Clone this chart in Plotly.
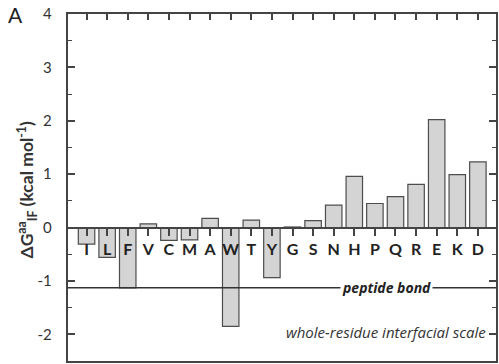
import plotly.graph_objects as go

residues = ["I", "L", "F", "V", "C", "M", "A", "W", "T", "Y",
            "G", "S", "N", "H", "P", "Q", "R", "E", "K", "D"]
dG_IF = [-0.31, -0.56, -1.13, 0.07, -0.24, -0.23, 0.17, -1.85, 0.14, -0.94,
         0.01, 0.13, 0.42, 0.96, 0.45, 0.58, 0.81, 2.02, 0.99, 1.23]
peptide_bond = -1.13
y_ticks = [-2, -1, 0, 1, 2, 3, 4]
y_ticktext = ["-2", "-1", "0", "1", "2", "3", "4"]
y_minor = [v - 0.5 for v in y_ticks]

YMIN, YMAX = -2.5, 4
XR = [-0.9, 19.88]
FONT = "Lato"
AX = "#444444"
PAD = "\u2002\u2005"

fig = go.Figure()
fig.add_trace(go.Bar(
    x=residues, y=dG_IF, width=0.8,
    marker=dict(color="#d4d4d4", line=dict(color="#4d4d4d", width=1.2)),
    xaxis="x", yaxis="y", showlegend=False,
))
# invisible trace to carry the category axis sitting at y = 0
fig.add_trace(go.Scatter(x=residues, y=[0] * len(residues), mode="markers",
                         marker=dict(opacity=0), xaxis="x2", yaxis="y",
                         showlegend=False, hoverinfo="skip"))

fig.add_shape(type="line", xref="paper", yref="y", x0=0, x1=1,
              y0=peptide_bond, y1=peptide_bond,
              line=dict(color="#333333", width=1.5))
fig.add_annotation(xref="paper", yref="y", x=0.745, y=peptide_bond,
                   xanchor="center", yanchor="middle",
                   text="<b><i>peptide bond</i></b>", showarrow=False,
                   bgcolor="white", borderpad=1,
                   font=dict(family="Open Sans", size=14, color="#222222"))
fig.add_annotation(xref="paper", yref="y", x=0.982, y=-1.96,
                   xanchor="right", yanchor="middle",
                   text="<i>whole-residue interfacial scale</i>",
                   showarrow=False,
                   font=dict(family="Open Sans", size=15, color="#333333"))
fig.add_annotation(xref="paper", yref="paper", x=-0.095, y=0.495,
                   xanchor="center", yanchor="middle",
                   textangle=-90, showarrow=False,
                   text="<b>ΔG<sup>aa</sup><sub>IF</sub> (kcal mol<sup>-1</sup>)</b>",
                   font=dict(family=FONT, size=17.5, color="#333333"))
fig.add_annotation(xref="paper", yref="paper", x=-0.145, y=1.0,
                   xanchor="left", yanchor="middle", text="A", showarrow=False,
                   font=dict(family=FONT, size=21, color="#222222"))

zero_pos = (0 - YMIN) / (YMAX - YMIN)

fig.update_layout(
    width=499, height=364,
    margin=dict(l=68, r=1, t=14, b=2),
    paper_bgcolor="white", plot_bgcolor="rgba(0,0,0,0)",
    font=dict(family=FONT, color="#333333"),
    xaxis=dict(type="category", categoryarray=residues, range=XR,
               side="top", ticks="inside", ticklen=6, tickwidth=1.5,
               tickcolor=AX, showticklabels=False, showline=True,
               linecolor=AX, linewidth=2, mirror=True, showgrid=False,
               zeroline=False),
    xaxis2=dict(type="category", categoryarray=residues, range=XR,
                overlaying="x", anchor="free", position=zero_pos,
                side="bottom", ticks="outside", ticklen=8, tickwidth=1.5,
                tickcolor=AX, showline=True, linecolor=AX, linewidth=1.5,
                showgrid=False, zeroline=False,
                tickfont=dict(family=FONT, size=16, color="#222222",
                              weight="bold")),
    yaxis=dict(range=[YMIN, YMAX], tickmode="array", tickvals=y_ticks,
               ticktext=[t + PAD for t in y_ticktext],
               ticks="inside", ticklen=7, tickwidth=1.5, tickcolor=AX,
               showline=True, linecolor=AX, linewidth=2, mirror="ticks",
               showgrid=False, zeroline=False,
               tickfont=dict(family=FONT, size=15, color="#333333"),
               minor=dict(tickmode="array", tickvals=y_minor,
                          ticks="inside", ticklen=4,
                          tickcolor=AX, tickwidth=1.2)),
)

fig.write_html("out.html")
